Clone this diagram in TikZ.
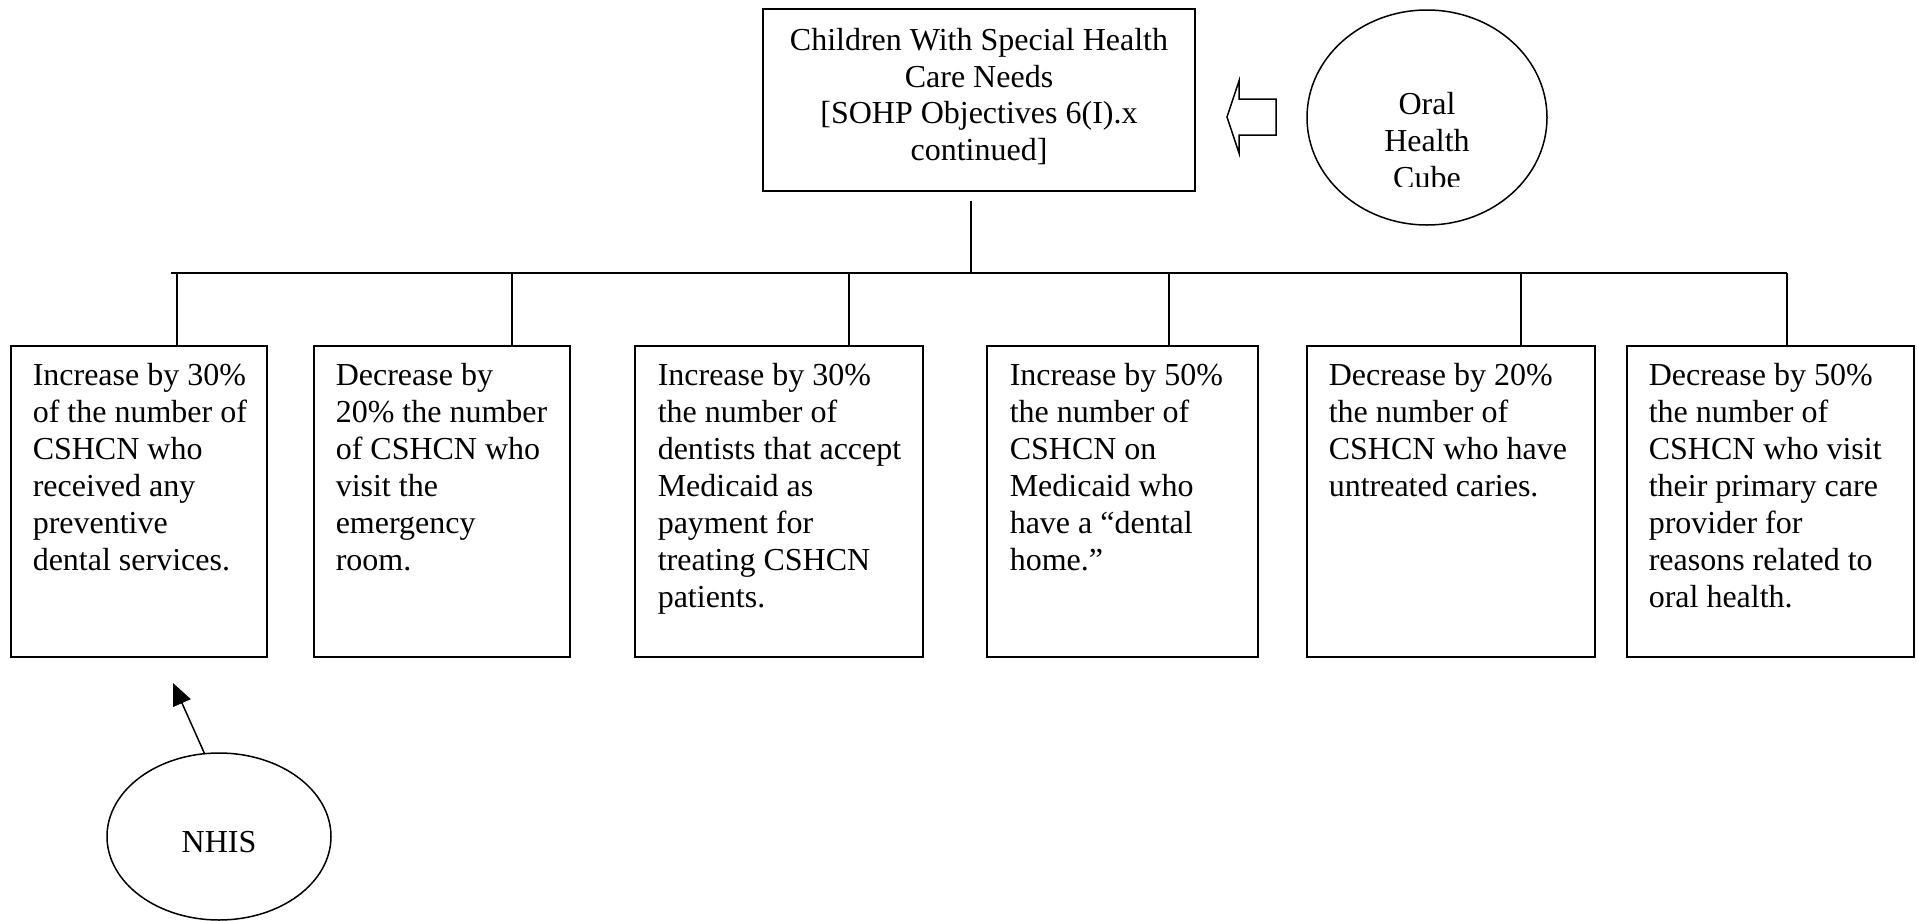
\documentclass[tikz,border=0pt]{standalone}
\usepackage{fontspec}
\setmainfont{Liberation Serif}
\usetikzlibrary{arrows.meta,shapes.geometric}
\begin{document}
\begin{tikzpicture}[x=1pt,y=-1pt,line width=1.5pt,
  goal/.style={draw,rectangle,inner sep=0pt,minimum height=311pt},
  goaltext/.style={anchor=north west,inner sep=0pt,align=left,font=\fontsize{32}{37}\selectfont},
  oval/.style={draw,ellipse,inner sep=0pt},
  plain/.style={inner sep=0pt,font=\fontsize{32}{37}\selectfont}]
\useasboundingbox (0,0) rectangle (1917,921);

% top box
\node[draw,rectangle,inner sep=0pt,minimum width=432pt,minimum height=182pt] (top) at (979,100) {};
\node[plain,anchor=north,align=center,font=\fontsize{32}{36.5}\selectfont] (toptext) at (979,28)
  {Children With Special Health\\Care Needs\\{[}SOHP Objectives 6(I).x\\continued{]}};

% oral health cube
\node[oval,minimum width=240pt,minimum height=215pt] (cube) at (1427,117.5) {};
\begin{scope}
  \clip (1300,0) rectangle (1560,186.5);
  \node[plain,anchor=north,align=center] (cubetext) at (1427,92) {Oral\\Health\\Cube};
\end{scope}

% hollow arrow
\draw (1227,117) -- (1239,81) -- (1239,99) -- (1276,99) -- (1276,135) -- (1239,135) -- (1239,153) -- cycle;

% goal boxes
\node[goal,minimum width=256pt] (b1) at (139,501.5) {};
\node[goal,minimum width=256pt] (b2) at (442,501.5) {};
\node[goal,minimum width=288pt] (b3) at (779,501.5) {};
\node[goal,minimum width=271pt] (b4) at (1122.5,501.5) {};
\node[goal,minimum width=288pt] (b5) at (1451,501.5) {};
\node[goal,minimum width=287pt] (b6) at (1770.5,501.5) {};

\node[goaltext] (t1) at (32,363) {Increase by 30\%\\of the number of\\CSHCN who\\received any\\preventive\\dental services.};
\node[goaltext] (t2) at (335,363) {Decrease by\\20\% the number\\of CSHCN who\\visit the\\emergency\\room.};
\node[goaltext] (t3) at (657,363) {Increase by 30\%\\the number of\\dentists that accept\\Medicaid as\\payment for\\treating CSHCN\\patients.};
\node[goaltext] (t4) at (1009,363) {Increase by 50\%\\the number of\\CSHCN on\\Medicaid who\\have a “dental\\home.”};
\node[goaltext] (t5) at (1328,363) {Decrease by 20\%\\the number of\\CSHCN who have\\untreated caries.};
\node[goaltext] (t6) at (1648,363) {Decrease by 50\%\\the number of\\CSHCN who visit\\their primary care\\provider for\\reasons related to\\oral health.};

% tree connectors
\coordinate (stem) at (971,201);
\coordinate (hub) at (971,273);
\coordinate (busL) at (171,273);
\coordinate (busR) at (1787,273);
\draw (stem) -- (hub);
\draw (busL) -- (busR);
\coordinate (d1) at (177,273);
\coordinate (d2) at (512,273);
\coordinate (d3) at (849,273);
\coordinate (d4) at (1169,273);
\coordinate (d5) at (1521,273);
\coordinate (d6) at (1787,273);
\draw (d1) -- (d1 |- b1.north);
\draw (d2) -- (d2 |- b2.north);
\draw (d3) -- (d3 |- b3.north);
\draw (d4) -- (d4 |- b4.north);
\draw (d5) -- (d5 |- b5.north);
\draw (d6) -- (d6 |- b6.north);

% NHIS
\node[oval,minimum width=224pt,minimum height=167pt] (nhis) at (219,836.5) {};
\node[plain] (nhistext) at (219,842) {NHIS};
\coordinate (nhistip) at (173,683);
\draw[-{Triangle[length=22pt,width=19pt]}] (nhis.100) -- (nhistip);
\end{tikzpicture}
\end{document}
